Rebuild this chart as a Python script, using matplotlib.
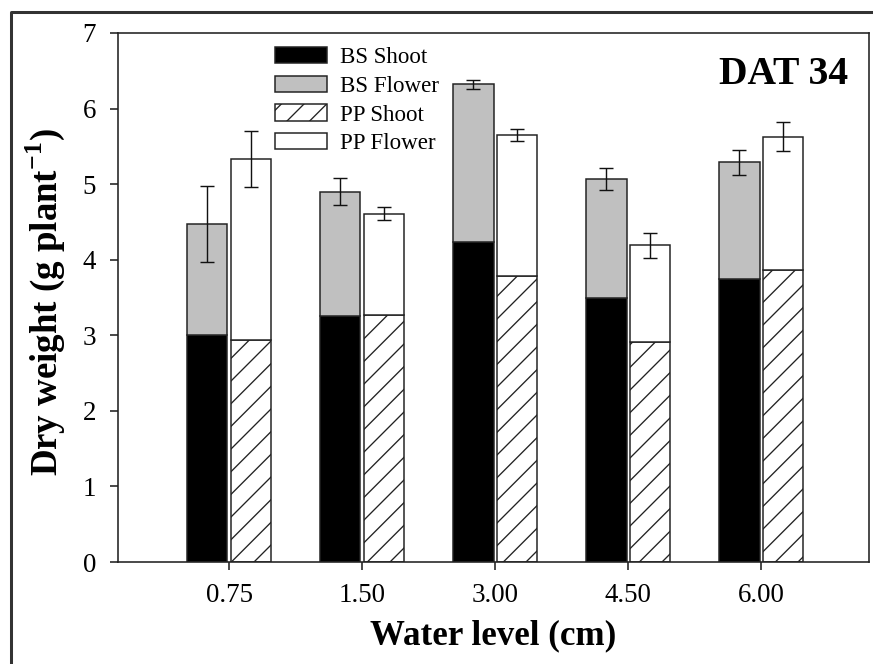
import matplotlib.pyplot as plt
from matplotlib.lines import Line2D
import numpy as np

plt.rcParams['font.family'] = ['Liberation Serif', 'DejaVu Serif']
plt.rcParams['hatch.linewidth'] = 0.7
plt.rcParams['mathtext.fontset'] = 'custom'
plt.rcParams['mathtext.rm'] = 'Liberation Serif'
plt.rcParams['mathtext.bf'] = 'Liberation Serif:bold'

# data (dry weight, g plant-1)
water = ['0.75', '1.50', '3.00', '4.50', '6.00']
bs_shoot = [3.01, 3.25, 4.23, 3.50, 3.74]
bs_flower = [1.46, 1.65, 2.09, 1.57, 1.55]
bs_err = [0.50, 0.18, 0.055, 0.145, 0.165]
pp_shoot = [2.94, 3.27, 3.78, 2.91, 3.86]
pp_flower = [2.39, 1.34, 1.87, 1.28, 1.77]
pp_err = [0.37, 0.09, 0.075, 0.17, 0.19]

W, H, DPI = 873, 664, 136
fig = plt.figure(figsize=(W / DPI, H / DPI), dpi=DPI)
ax = fig.add_axes([118 / W, (H - 562) / H, 751 / W, 529 / H])

x = np.arange(len(water))
bw = 0.305
off = 0.165
ec = '#222222'
lw = 0.8

bs_top = np.array(bs_shoot) + np.array(bs_flower)
pp_top = np.array(pp_shoot) + np.array(pp_flower)

ax.bar(x - off, bs_shoot, bw, color='black', edgecolor=ec, lw=lw, label='BS Shoot')
ax.bar(x - off, bs_flower, bw, bottom=bs_shoot, color='#c0c0c0', edgecolor=ec, lw=lw,
       label='BS Flower')
ax.bar(x + off, pp_shoot, bw, color='white', edgecolor=ec, lw=lw, hatch='//',
       label='PP Shoot')
ax.bar(x + off, pp_flower, bw, bottom=pp_shoot, color='white', edgecolor=ec, lw=lw,
       label='PP Flower')

ax.errorbar(x - off, bs_top, yerr=bs_err, fmt='none', ecolor='#111111',
            elinewidth=0.75, capsize=3.7, capthick=0.75, zorder=5)
ax.errorbar(x + off, pp_top, yerr=pp_err, fmt='none', ecolor='#111111',
            elinewidth=0.75, capsize=3.7, capthick=0.75, zorder=5)

ax.set_xlim(-0.835, 4.81)
ax.set_ylim(0, 7)
ax.set_xticks(x)
ax.set_xticklabels(water)
ax.set_yticks(range(8))
ax.tick_params(axis='both', direction='out', length=4.2, width=0.85,
               labelsize=14.3, color='#222222')
ax.tick_params(axis='y', pad=7.5)
ax.tick_params(axis='x', pad=7)
for s in ax.spines.values():
    s.set_linewidth(0.85)
    s.set_color('#222222')

ax.legend(loc='upper left', bbox_to_anchor=(275 / W, 1 - 47 / H),
          bbox_transform=fig.transFigure, frameon=False, fontsize=12.2,
          handlelength=2.26, handleheight=0.7, handletextpad=0.57,
          labelspacing=0.33, borderpad=0, borderaxespad=0)

fig.text(848 / W, 1 - 84 / H, 'DAT 34', ha='right', va='baseline',
         fontsize=21, fontweight='bold')
fig.text(45 / W, 1 - 302 / H, r'Dry weight (g plant$^{\mathbf{-1}}$)', rotation=90,
         ha='center', va='center', fontsize=19.5, fontweight='bold')
fig.text(493 / W, 1 - 636 / H, 'Water level (cm)', ha='center', va='center',
         fontsize=18.5, fontweight='bold')

# outer frame
fig.add_artist(Line2D([11 / W, 11 / W, 1.01], [-0.01, 1 - 12 / H, 1 - 12 / H],
                      transform=fig.transFigure, color='#333333', lw=1.6))

fig.savefig('out.png', dpi=DPI)
